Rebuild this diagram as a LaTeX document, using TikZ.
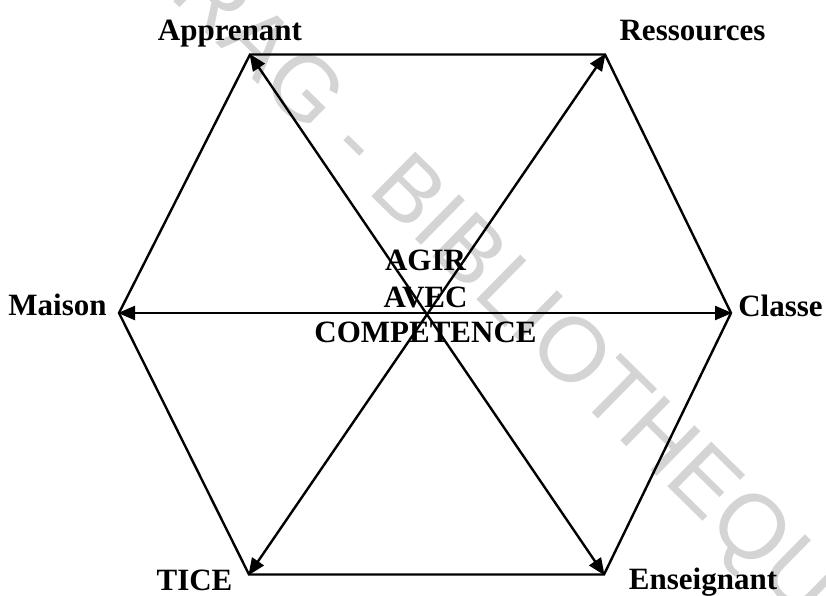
\documentclass[tikz,border=0pt]{standalone}
\usepackage{fontspec}
\setmainfont{Liberation Serif}
\newfontfamily\wmfamily{Liberation Sans}
\usetikzlibrary{arrows.meta}
\tikzset{
  lbl/.style={font=\bfseries\fontsize{31}{36}\selectfont, inner sep=0pt, anchor=base},
  edge/.style={line width=2.4pt},
  arr/.style={line width=2.4pt, {Triangle[length=17pt,width=14pt]}-{Triangle[length=17pt,width=14pt]}, shorten <=-1pt, shorten >=-1pt},
  wm/.style={font=\wmfamily\fontsize{91}{91}\selectfont, text=black!17, inner sep=0pt}
}
\begin{document}
\begin{tikzpicture}[x=1pt,y=-1pt]
\useasboundingbox[fill=white] (0,0) rectangle (826,595);
\node[wm, rotate=-44.5] (wmark) at (500,290) {CRAG - BIBLIOTHEQUE};
\coordinate (A) at (250,54.5);
\coordinate (R) at (605,54.5);
\coordinate (C) at (731,313);
\coordinate (E) at (604,574.5);
\coordinate (T) at (249,574.5);
\coordinate (M) at (119,313);
\draw[edge] (A) -- (R) -- (C) -- (E) -- (T) -- (M) -- cycle;
\draw[arr] (A) -- (E);
\draw[arr] (R) -- (T);
\draw[arr] (M) -- (C);
\node[lbl] (apprenant) at (230,40) {Apprenant};
\node[lbl] (ressources) at (692.5,40) {Ressources};
\node[lbl] (maison) at (57.5,315) {Maison};
\node[lbl] (classe) at (780.5,316) {Classe};
\node[lbl] (tice) at (194.5,590) {TICE};
\node[lbl] (enseignant) at (703,589.5) {Enseignant};
\node[lbl] (agir) at (425.5,270.7) {AGIR};
\node[lbl] (avec) at (425.5,307) {AVEC};
\node[lbl] (comp) at (425.5,342.7) {COMPETENCE};
\end{tikzpicture}
\end{document}
